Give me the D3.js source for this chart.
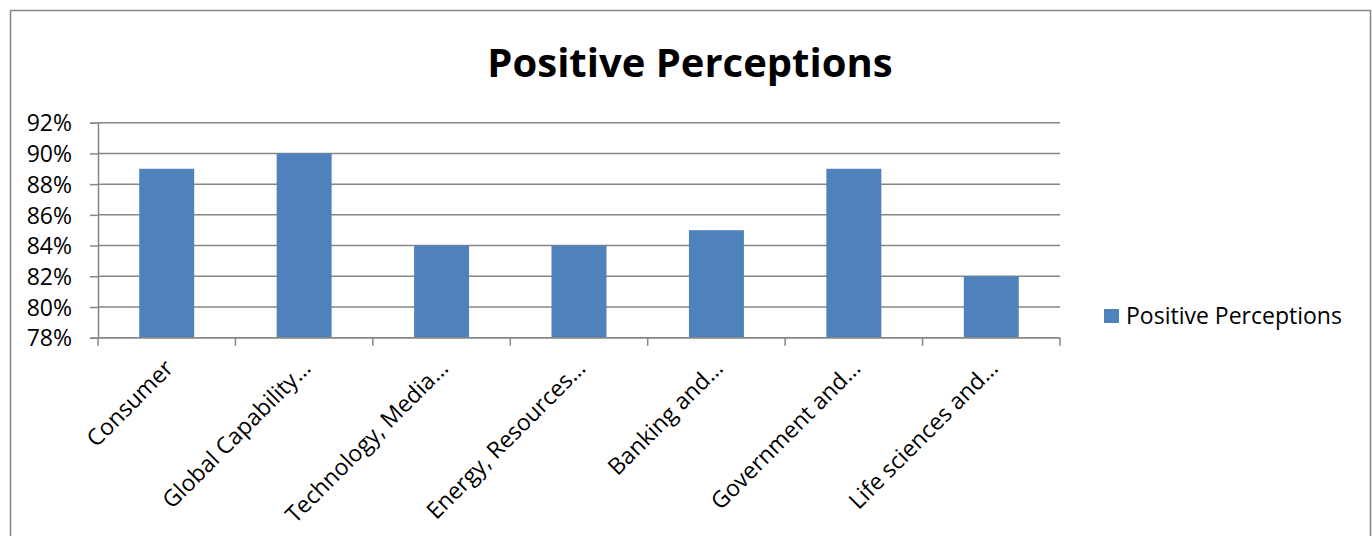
<!DOCTYPE html>
<html>
<head>
<meta charset="utf-8">
<script src="https://cdn.jsdelivr.net/npm/d3@7"></script>
<style>
  html, body { margin: 0; padding: 0; background: #fff; }
  svg { display: block; font-family: "Open Sans", "Noto Sans", sans-serif; }
</style>
</head>
<body>
<svg id="chart" width="1372" height="536"></svg>
<script>
const categories = ["Consumer", "Global Capability…", "Technology, Media…", "Energy, Resources…", "Banking and…", "Government and…", "Life sciences and…"];
const values = [0.89, 0.90, 0.84, 0.84, 0.85, 0.89, 0.82];
const seriesName = "Positive Perceptions";
const yTicks = [0.78, 0.80, 0.82, 0.84, 0.86, 0.88, 0.90, 0.92];

(function () {
const svg = d3.select("#chart");
const gridColor = "#868686";
const barColor = "#4F81BD";

svg.append("rect")
  .attr("x", 10.5).attr("y", 10.5)
  .attr("width", 1360).attr("height", 540)
  .attr("fill", "#fff").attr("stroke", gridColor).attr("stroke-width", 1.5);

const pLeft = 98, pRight = 1060, pTop = 122.7, pBottom = 337.7;

const x = d3.scaleBand().domain(categories).range([pLeft, pRight]).paddingInner(0.6).paddingOuter(0.3);
const y = d3.scaleLinear().domain([0.78, 0.92]).range([pBottom, pTop]);

svg.append("g")
  .selectAll("line").data(yTicks).join("line")
  .attr("x1", pLeft).attr("x2", pRight)
  .attr("y1", d => y(d)).attr("y2", d => y(d))
  .attr("stroke", gridColor).attr("stroke-width", 1.5);

const yAxis = d3.axisLeft(y).tickValues(yTicks).tickFormat(d3.format(".0%")).tickSize(8).tickPadding(18);
const gy = svg.append("g").attr("transform", `translate(${pLeft},0)`).call(yAxis);
gy.select(".domain").attr("stroke", gridColor).attr("stroke-width", 1.5);
gy.selectAll(".tick line").attr("stroke", gridColor).attr("stroke-width", 1.5);
gy.selectAll(".tick text").attr("font-size", 23).attr("fill", "#000").attr("font-family", "Open Sans").attr("dy", "0.36em");

svg.append("g")
  .selectAll("rect").data(values).join("rect")
  .attr("x", (d, i) => x(categories[i]))
  .attr("width", x.bandwidth())
  .attr("y", d => y(d))
  .attr("height", d => pBottom - y(d))
  .attr("fill", barColor);

const boundaries = d3.range(categories.length + 1).map(i => pLeft + i * (pRight - pLeft) / categories.length);
svg.append("line")
  .attr("x1", pLeft).attr("x2", pRight).attr("y1", pBottom).attr("y2", pBottom)
  .attr("stroke", gridColor).attr("stroke-width", 1.5);
svg.append("g").selectAll("line").data(boundaries).join("line")
  .attr("x1", d => d).attr("x2", d => d)
  .attr("y1", pBottom).attr("y2", pBottom + 8)
  .attr("stroke", gridColor).attr("stroke-width", 1.5);

svg.append("g").selectAll("text").data(categories).join("text")
  .attr("transform", d => `translate(${x(d) + x.bandwidth() / 2 + 8},${pBottom + 32}) rotate(-45)`)
  .attr("text-anchor", "end")
  .attr("font-size", 23)
  .attr("fill", "#000")
  .text(d => d);

svg.append("text")
  .attr("x", 690).attr("y", 77)
  .attr("text-anchor", "middle")
  .attr("font-size", 40).attr("font-weight", "bold")
  .attr("fill", "#000")
  .text(seriesName);

const lg = svg.append("g").attr("transform", "translate(1104,309)");
lg.append("rect").attr("width", 15).attr("height", 14).attr("fill", barColor);
lg.append("text").attr("x", 22).attr("y", 15).attr("font-size", 23).attr("fill", "#000").text(seriesName);
})();
</script>
</body>
</html>
